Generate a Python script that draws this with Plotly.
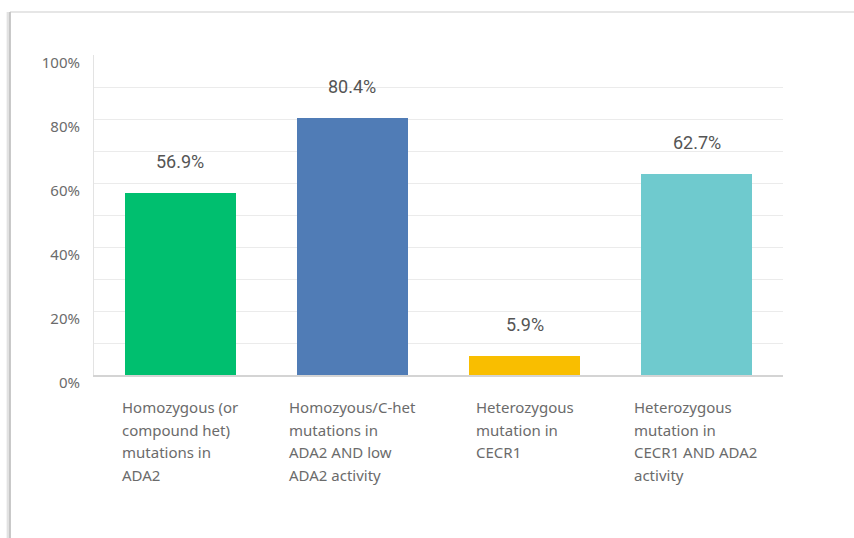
import plotly.graph_objects as go

category_lines = [
    ["Homozygous (or", "compound het)", "mutations in", "ADA2"],
    ["Homozyous/C-het", "mutations in", "ADA2 AND low", "ADA2 activity"],
    ["Heterozygous", "mutation in", "CECR1"],
    ["Heterozygous", "mutation in", "CECR1 AND ADA2", "activity"],
]
values = [56.9, 80.4, 5.9, 62.7]
colors = ["#00BF6F", "#507CB6", "#F9BE00", "#6FCACE"]
y_ticks = [0, 20, 40, 60, 80, 100]
y_tick_text = ["0%", "20%", "40%", "60%", "80%", "100%"]

W, H = 854, 538
ml, mr, mt, mb = 94, 71, 55, 163
pw, ph = W - ml - mr, H - mt - mb

# horizontal offset of each label block's left edge from its category centre
label_dx = [-60, -65, -51, -65]
line_step = 22.5

fig = go.Figure()
fig.add_trace(go.Bar(
    x=list(range(len(values))),
    y=values,
    marker=dict(color=colors, line=dict(width=0)),
    width=0.645,
    hoverinfo="skip",
))

annotations = []
for i, v in enumerate(values):
    annotations.append(dict(
        x=i, y=v, xref="x", yref="y", text=f"{v:.1f}%",
        showarrow=False, yanchor="bottom", yshift=19,
        font=dict(family="Roboto", size=18, color="#555555"),
    ))
    for k, line in enumerate(category_lines[i]):
        annotations.append(dict(
            x=i, y=0, xref="x", yref="y", text=line,
            showarrow=False, xanchor="left", yanchor="middle",
            xshift=label_dx[i], yshift=-32 - k * line_step,
            font=dict(family="Noto Sans", size=15, color="#6b6b6b"),
        ))

# card outline: top edge and left edge
card_x = (10 - ml) / pw
card_y = 1 + (mt - 12) / ph
shapes = [
    dict(type="line", xref="paper", yref="paper", x0=card_x, x1=(W - ml) / pw,
         y0=card_y, y1=card_y, line=dict(color="#e6e6e6", width=2)),
    dict(type="line", xref="paper", yref="paper", x0=card_x - 0.002, x1=card_x - 0.002,
         y0=card_y, y1=-mb / ph, line=dict(color="#e2e2e2", width=4)),
    dict(type="line", xref="paper", yref="paper", x0=card_x, x1=card_x,
         y0=card_y, y1=-mb / ph, line=dict(color="#bdbdbd", width=1.5)),
]

fig.update_layout(
    width=W, height=H,
    margin=dict(l=ml, r=mr, t=mt, b=mb, pad=0),
    paper_bgcolor="white", plot_bgcolor="white",
    showlegend=False,
    bargap=0,
    annotations=annotations,
    shapes=shapes,
    xaxis=dict(
        range=[-0.5, 3.5], showticklabels=False, ticks="", showgrid=False,
        zeroline=False, showline=True, linecolor="#d4d4d4", linewidth=2,
        fixedrange=True,
    ),
    yaxis=dict(
        range=[0, 100], tickvals=y_ticks, ticktext=y_tick_text,
        showgrid=False, zeroline=False, showline=True, linecolor="#e3e3e3",
        linewidth=1, ticks="", ticklabelstandoff=10, ticklabelshift=8,
        tickfont=dict(family="Noto Sans", size=15, color="#6b6b6b"),
        minor=dict(tickvals=[10, 20, 30, 40, 50, 60, 70, 80, 90], showgrid=True,
                   gridcolor="#ebebeb", gridwidth=1),
        fixedrange=True,
    ),
)

fig.write_html("out.html")
